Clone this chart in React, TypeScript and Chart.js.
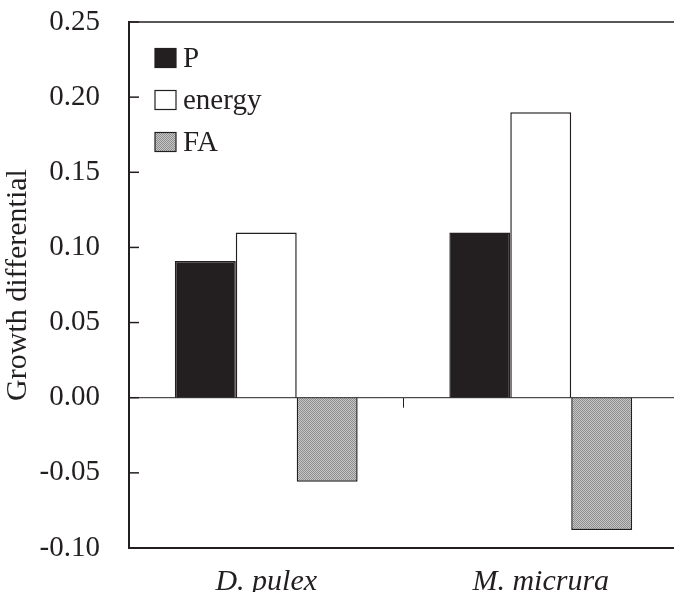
import React, { useEffect, useRef } from 'react';
import { Chart, registerables } from 'chart.js';

Chart.register(...registerables);

const categories = ['D. pulex', 'M. micrura'];
const seriesNames = ['P', 'energy', 'FA'];
const pValues = [0.091, 0.11];
const energyValues = [0.11, 0.19];
const faValues = [-0.056, -0.088];
const yMin = -0.1;
const yMax = 0.25;
const yStep = 0.05;

const SERIF = '"Liberation Serif", "Times New Roman", serif';
const INK = '#231f20';

function makeStipple(): CanvasPattern | string {
  const c = document.createElement('canvas');
  c.width = 2;
  c.height = 2;
  const g = c.getContext('2d');
  if (!g) return '#aaaaaa';
  g.fillStyle = '#c6c6c6';
  g.fillRect(0, 0, 2, 2);
  g.fillStyle = '#8e8e8e';
  g.fillRect(0, 0, 1, 1);
  g.fillRect(1, 1, 1, 1);
  const p = g.createPattern(c, 'repeat');
  return p || '#aaaaaa';
}

const decorPlugin = {
  id: 'decor',
  afterDraw(chart: any) {
    const { ctx, chartArea } = chart;
    const y = chart.scales.y;
    const x = chart.scales.x;
    ctx.save();
    ctx.strokeStyle = INK;
    // top frame line
    ctx.lineWidth = 1.5;
    ctx.beginPath();
    ctx.moveTo(chartArea.left, chartArea.top);
    ctx.lineTo(chartArea.right, chartArea.top);
    ctx.stroke();
    // zero line
    const y0 = y.getPixelForValue(0);
    ctx.lineWidth = 1;
    ctx.beginPath();
    ctx.moveTo(chartArea.left, y0);
    ctx.lineTo(chartArea.right, y0);
    ctx.stroke();
    // inward y ticks
    ctx.lineWidth = 1.5;
    y.ticks.forEach((t: any) => {
      const py = y.getPixelForValue(t.value);
      ctx.beginPath();
      ctx.moveTo(chartArea.left, py);
      ctx.lineTo(chartArea.left + 10, py);
      ctx.stroke();
    });
    // category divider tick on zero line
    ctx.lineWidth = 1;
    for (let i = 0; i < categories.length - 1; i++) {
      const px = (x.getPixelForValue(i) + x.getPixelForValue(i + 1)) / 2;
      ctx.beginPath();
      ctx.moveTo(px, y0);
      ctx.lineTo(px, y0 + 10);
      ctx.stroke();
    }
    // legend inside plot
    const boxX = chartArea.left + 26;
    const rowY0 = chartArea.top + 36;
    const rowGap = 42;
    ctx.font = '29px ' + SERIF;
    ctx.textBaseline = 'middle';
    ctx.textAlign = 'left';
    chart.data.datasets.forEach((ds: any, i: number) => {
      const cy = rowY0 + i * rowGap;
      ctx.fillStyle = ds.backgroundColor;
      ctx.fillRect(boxX, cy - 9.5, 21, 19);
      ctx.lineWidth = 1.2;
      ctx.strokeStyle = INK;
      ctx.strokeRect(boxX, cy - 9.5, 21, 19);
      ctx.fillStyle = INK;
      ctx.fillText(ds.label, boxX + 28, cy + 1);
    });
    ctx.restore();
  },
};

export default function App() {
  const ref = useRef<HTMLCanvasElement | null>(null);
  useEffect(() => {
    if (!ref.current) return;
    const stipple = makeStipple();
    const chart = new Chart(ref.current, {
      type: 'bar',
      data: {
        labels: categories,
        datasets: [
          { label: seriesNames[0], data: pValues, backgroundColor: INK, borderColor: INK, borderWidth: 1.5 },
          { label: seriesNames[1], data: energyValues, backgroundColor: '#ffffff', borderColor: INK, borderWidth: 1.5 },
          { label: seriesNames[2], data: faValues, backgroundColor: stipple as any, borderColor: INK, borderWidth: 1.5 },
        ],
      },
      options: {
        animation: false,
        responsive: true,
        maintainAspectRatio: false,
        layout: { padding: { top: 22, right: 2, left: 0, bottom: 0 } },
        datasets: { bar: { categoryPercentage: 0.666, barPercentage: 1 } },
        plugins: { legend: { display: false }, tooltip: { enabled: false } },
        scales: {
          x: {
            grid: { display: false, drawTicks: false },
            border: { display: true, color: INK, width: 2 },
            ticks: { color: INK, padding: 16, font: { family: SERIF, size: 30, style: 'italic' } },
            afterFit: (s: any) => {
              s.height = 44;
              s.paddingLeft = 0;
              s.paddingRight = 0;
            },
          },
          y: {
            min: yMin,
            max: yMax,
            grid: { display: false, drawTicks: false },
            border: { display: true, color: INK, width: 2 },
            ticks: {
              stepSize: yStep,
              color: INK,
              padding: 29,
              font: { family: SERIF, size: 29 },
              callback: (v: any) => (Math.round(Number(v) * 100) / 100 + 0).toFixed(2).replace('-0.00', '0.00'),
            },
            title: {
              display: true,
              text: 'Growth differential',
              color: INK,
              padding: { top: 0, bottom: 0 },
              font: { family: SERIF, size: 30 },
            },
            afterFit: (s: any) => {
              s.width = 129;
              s.paddingTop = 0;
              s.paddingBottom = 0;
            },
          },
        },
      },
      plugins: [decorPlugin],
    });
    return () => chart.destroy();
  }, []);
  return (
    <div style={{ position: 'fixed', left: 0, top: 0, width: 674, height: 592, overflow: 'hidden', background: '#ffffff' }}>
      <div style={{ width: 680, height: 592, position: 'absolute', left: 0, top: 0 }}>
        <canvas ref={ref} />
      </div>
    </div>
  );
}
